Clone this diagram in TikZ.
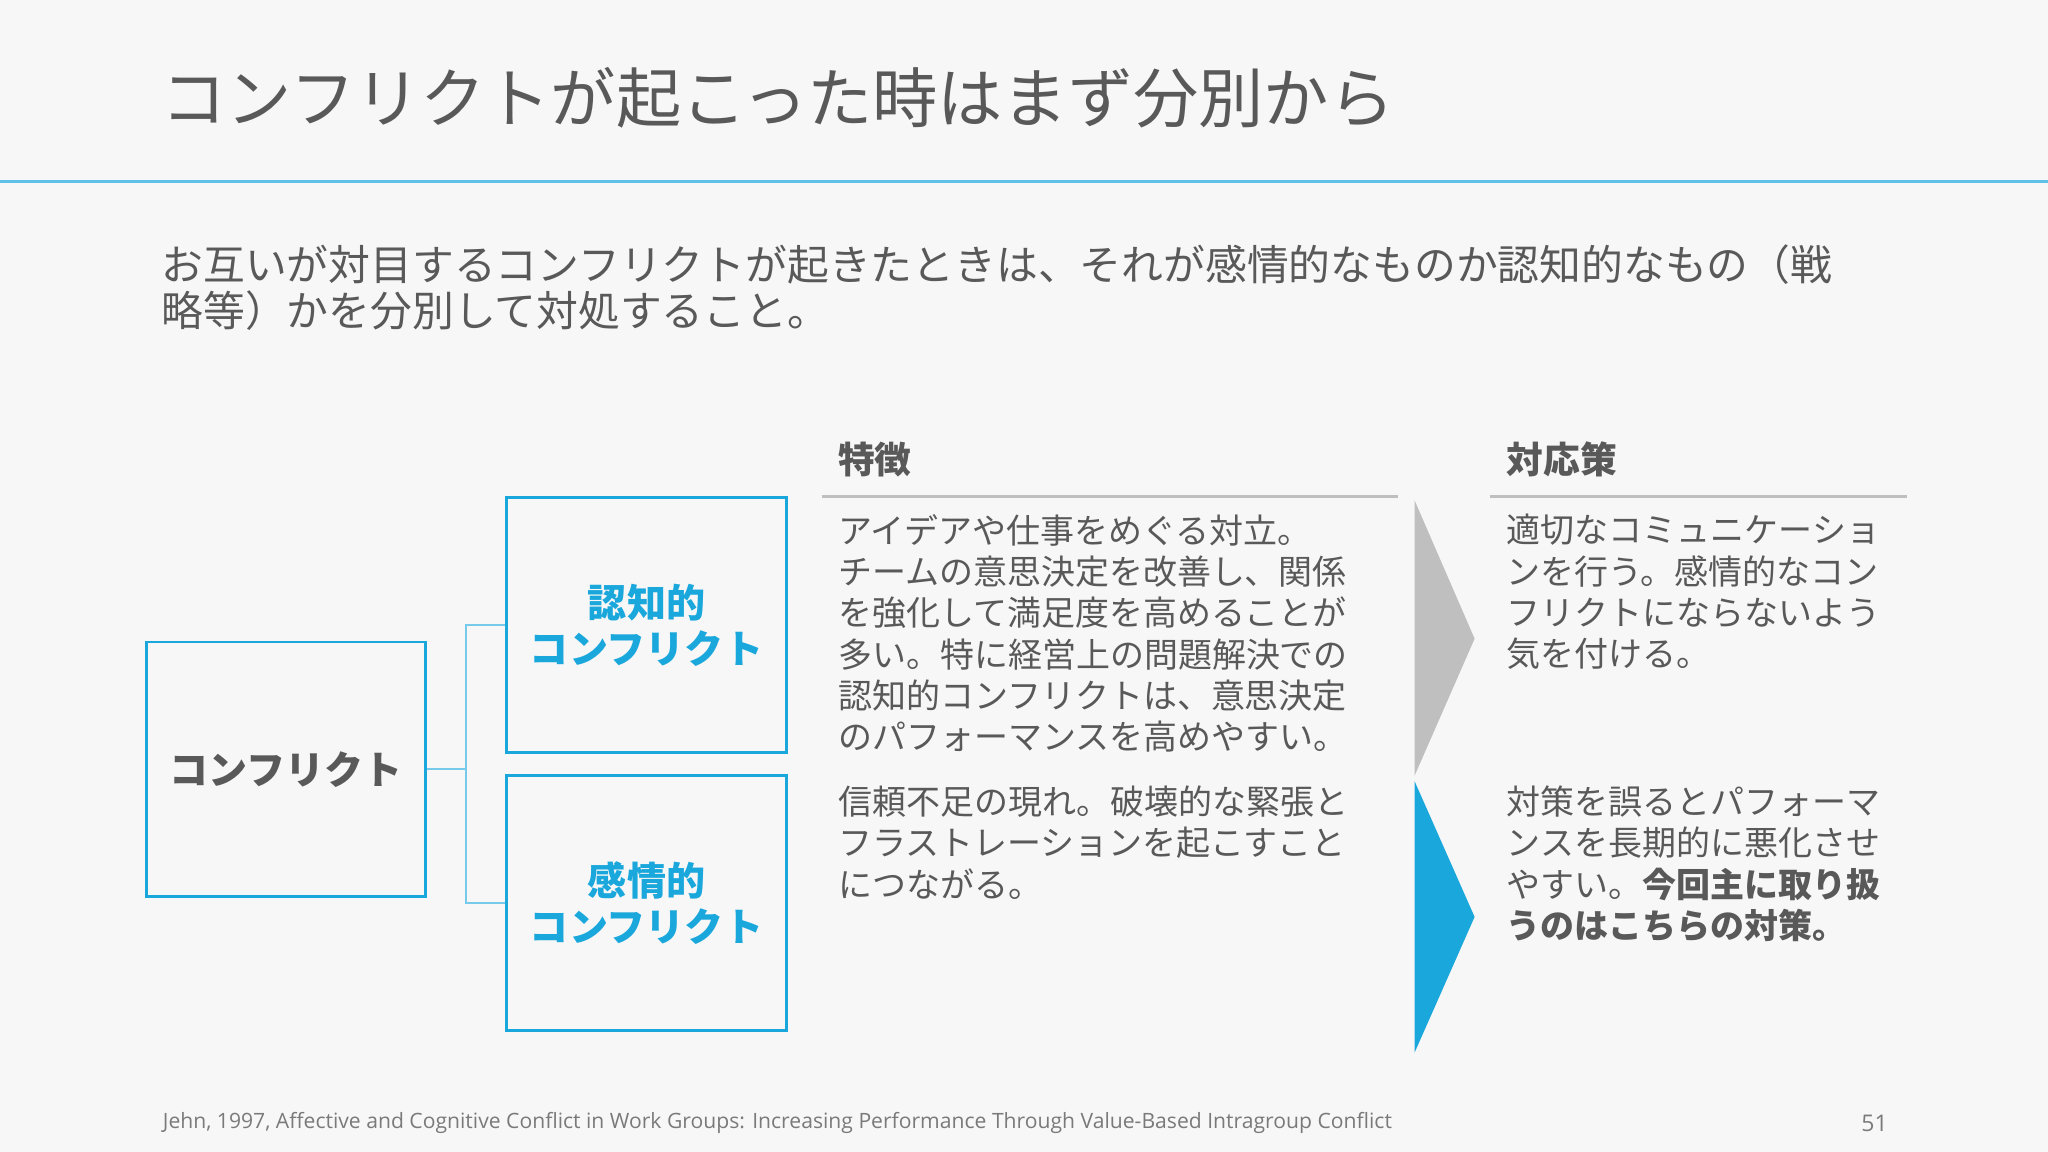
\documentclass[tikz,border=0pt]{standalone}
\usepackage{fontspec}
\setmainfont{Noto Sans CJK JP}
\newfontfamily\latin{Open Sans}
\definecolor{bg}{HTML}{F7F7F7}
\definecolor{txt}{HTML}{595959}
\definecolor{blu}{HTML}{1AA7DC}
\definecolor{gry}{HTML}{BFBFBF}
\tikzset{
 px/.style={x=0.01cm,y=-0.01cm},
 body/.style={anchor=north west,inner sep=0,align=left,text=txt,font=\fontsize{7.4}{9}\selectfont},
 box/.style={draw=blu,line width=0.6pt,minimum width=2.14cm,minimum height=1.95cm,inner sep=0,align=center,font=\bfseries\fontsize{8.5}{10}\selectfont},
 conn/.style={draw=blu!60,line width=0.4pt},
 hdr/.style={anchor=west,inner sep=0,text=txt,font=\bfseries\fontsize{8}{9}\selectfont}
}
\begin{document}
\begin{tikzpicture}[px]
\fill[bg] (0,0) rectangle (1568,882);
\useasboundingbox (0,0) rectangle (1568,882);
\node[anchor=west,inner sep=0,text=txt,font=\fontsize{14.2}{16}\selectfont] (title) at (123,75) {コンフリクトが起こった時はまず分別から};
\draw[blu!70,line width=0.5pt] (0,139) -- (1568,139);
\node[anchor=north west,inner sep=0,align=left,text=txt,font=\fontsize{9.1}{10}\selectfont] (sub) at (123,187) {お互いが対目するコンフリクトが起きたときは、それが感情的なものか認知的なもの（戦\\略等）かを分別して対処すること。};
\node[box,text=txt] (c) at (219,589) {コンフリクト};
\node[box,text=blu] (cog) at (495,478.5) {認知的\\コンフリクト};
\node[box,text=blu] (aff) at (495,691.5) {感情的\\コンフリクト};
\coordinate (j) at (357,589);
\draw[conn] (c.east) -- (j);
\draw[conn] (cog.west) -| (j);
\draw[conn] (aff.west) -| (j);
\node[hdr] (h1) at (641,352) {特徴};
\node[hdr] (h2) at (1153,352) {対応策};
\draw[gry,line width=0.6pt] (629,380) -- (1070,380);
\draw[gry,line width=0.6pt] (1141,380) -- (1460,380);
\fill[gry] (1083,383) -- (1129,489) -- (1083,594) -- cycle;
\fill[blu] (1083,598) -- (1129,702) -- (1083,806) -- cycle;
\node[body] (t1) at (641,393) {アイデアや仕事をめぐる対立。\\チームの意思決定を改善し、関係\\を強化して満足度を高めることが\\多い。特に経営上の問題解決での\\認知的コンフリクトは、意思決定\\のパフォーマンスを高めやすい。};
\node[body] (t2) at (641,601) {信頼不足の現れ。破壊的な緊張と\\フラストレーションを起こすこと\\につながる。};
\node[body] (t3) at (1153,393) {適切なコミュニケーショ\\ンを行う。感情的なコン\\フリクトにならないよう\\気を付ける。};
\node[body] (t4) at (1153,601) {対策を誤るとパフォーマ\\ンスを長期的に悪化させ\\やすい。\textbf{今回主に取り扱}\\\textbf{うのはこちらの対策。}};
\node[anchor=west,inner sep=0,text=txt!80,font=\latin\fontsize{4.6}{5}\selectfont] (ref) at (124,860) {Jehn, 1997, Affective and Cognitive Conflict in Work Groups: Increasing Performance Through Value-Based Intragroup Conflict};
\node[anchor=east,inner sep=0,text=txt!80,font=\latin\fontsize{5}{6}\selectfont] (pg) at (1446,860) {51};
\end{tikzpicture}
\end{document}
